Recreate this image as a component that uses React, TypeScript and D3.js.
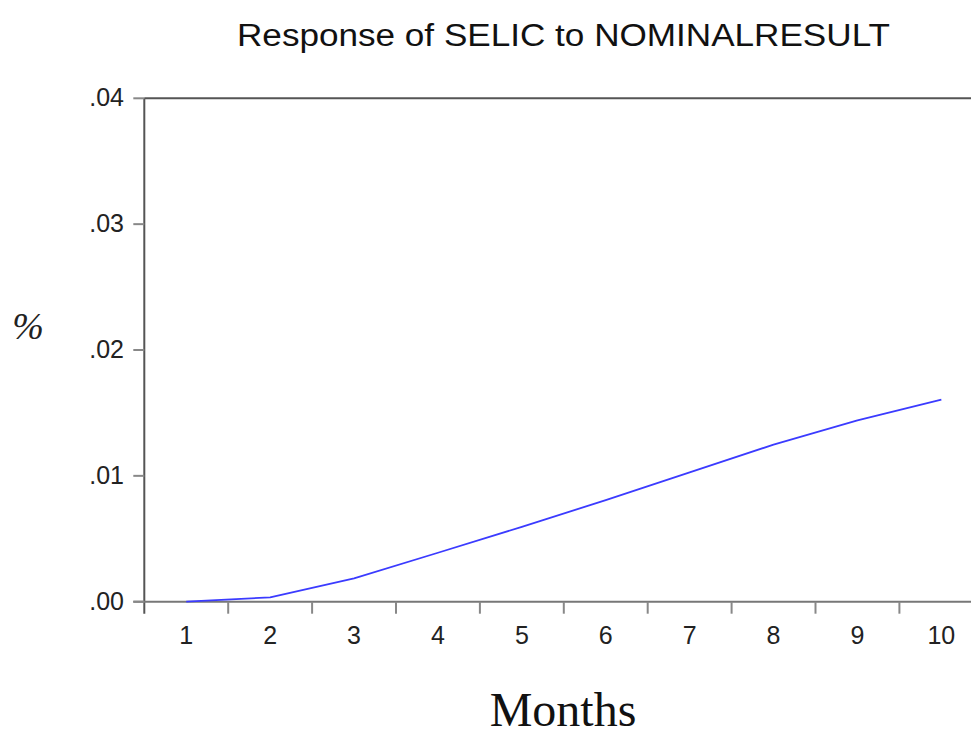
import React from "react";
import * as d3 from "d3";

const periods = [1, 2, 3, 4, 5, 6, 7, 8, 9, 10];
const responseValues = [0.0, 0.00035, 0.00186, 0.00389, 0.00595, 0.00807, 0.01028, 0.01248, 0.0144, 0.01606];
const yTicks = [0, 0.01, 0.02, 0.03, 0.04];
const yTickLabels = [".00", ".01", ".02", ".03", ".04"];
const title = "Response of SELIC to NOMINALRESULT";
const xTitle = "Months";
const yTitle = "%";

const W = 971;
const H = 737;
const left = 144.3;
const right = 983.3;
const top = 98.3;
const bottom = 601.7;

export default function App() {
  const x = d3.scaleBand<number>().domain(periods).range([left, right]).padding(0);
  const y = d3.scaleLinear().domain([0, 0.04]).range([bottom, top]);
  const cx = (p: number) => (x(p) as number) + x.bandwidth() / 2;
  const line = d3
    .line<number>()
    .x((_, i) => cx(periods[i]))
    .y((d) => y(d));
  const boundaries = periods.map((p) => x(p) as number);
  const axisColor = "#555";
  const sans = "'Liberation Sans', Arial, Helvetica, sans-serif";
  const serif = "'Liberation Serif', 'Times New Roman', serif";
  return (
    <svg width={W} height={H} style={{ position: "absolute", left: 0, top: 0, background: "#fff" }}>
      <rect x={0} y={0} width={W} height={H} fill="#fff" />
      <text
        x={563.5}
        y={46}
        textAnchor="middle"
        fontFamily={sans}
        fontSize={31}
        textLength={653}
        lengthAdjust="spacingAndGlyphs"
        fill="#111"
      >
        {title}
      </text>
      {/* frame */}
      <line x1={left} x2={right} y1={top} y2={top} stroke={axisColor} strokeWidth={2} />
      <line x1={left} x2={left} y1={top} y2={bottom + 12} stroke={axisColor} strokeWidth={2} />
      <line x1={right} x2={right} y1={top} y2={bottom} stroke={axisColor} strokeWidth={2} />
      <line x1={left - 11} x2={right} y1={bottom} y2={bottom} stroke="#777" strokeWidth={2} />
      {/* y ticks */}
      {yTicks.map((t, i) => (
        <g key={t}>
          <line x1={left - 11} x2={left} y1={y(t)} y2={y(t)} stroke="#888" strokeWidth={2} />
          <text x={124} y={y(t) + 8} textAnchor="end" fontFamily={sans} fontSize={25} fill="#222">
            {yTickLabels[i]}
          </text>
        </g>
      ))}
      {/* x ticks */}
      {boundaries.slice(1).map((b) => (
        <line key={b} x1={b} x2={b} y1={bottom} y2={bottom + 12} stroke="#888" strokeWidth={2} />
      ))}
      {periods.map((p) => (
        <text key={p} x={cx(p)} y={644} textAnchor="middle" fontFamily={sans} fontSize={25} fill="#222">
          {p}
        </text>
      ))}
      <path d={line(responseValues) || ""} fill="none" stroke="#3b3bff" strokeWidth={1.8} strokeLinejoin="round" />
      <text x={28} y={339} textAnchor="middle" fontFamily={serif} fontStyle="italic" fontSize={38} fill="#222">
        {yTitle}
      </text>
      <text x={563} y={726} textAnchor="middle" fontFamily={serif} fontSize={48} fill="#111">
        {xTitle}
      </text>
    </svg>
  );
}
